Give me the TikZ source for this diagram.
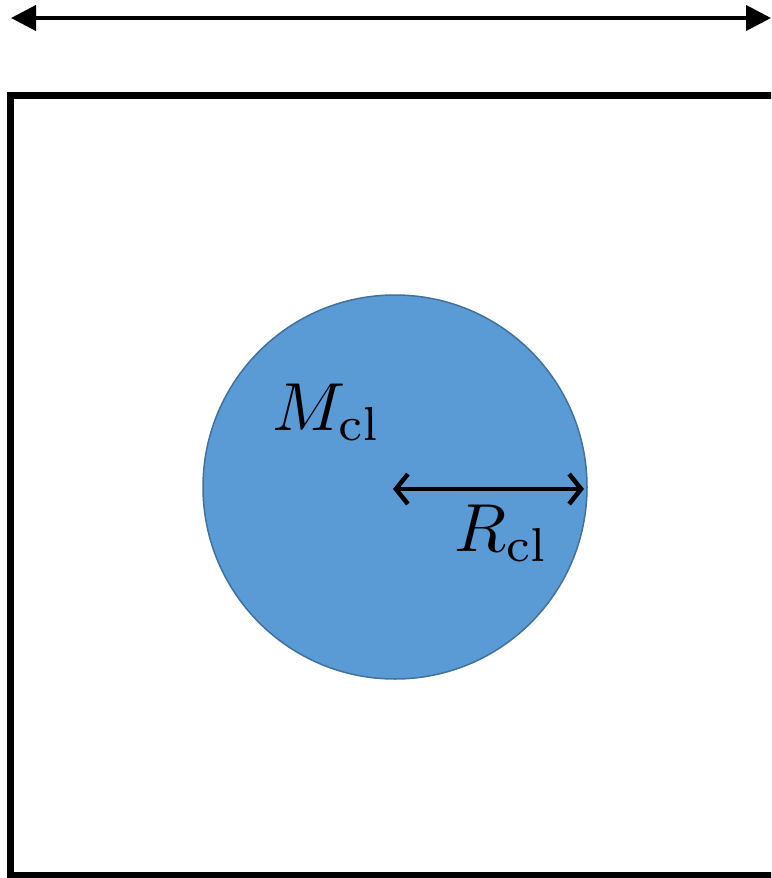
\documentclass[tikz,border=0pt]{standalone}
\usepackage{graphicx}
\usepackage{tikz}
\usetikzlibrary{arrows.meta}
\usepackage{xcolor}
\definecolor{clusterblue}{HTML}{5B9BD5}
\definecolor{clusteredge}{HTML}{41719C}

\tikzset{
  bigarrow/.style={line width=4pt, {Triangle[length=25pt,width=25pt]}-{Triangle[length=25pt,width=25pt]}},
  radiusarrow/.style={line width=4.5pt, {Straight Barb[length=12pt,width=30pt]}-{Straight Barb[length=12pt,width=30pt]}},
  biglabel/.style={inner sep=0pt, anchor=base west}
}
\newcommand{\biglbl}[1]{\scalebox{6.8}{#1}}

\begin{document}
\begin{tikzpicture}[x=1pt, y=-1pt]
  \clip (0,0) rectangle (771,878);
  \useasboundingbox (0,0) rectangle (771,878);
  % top span arrow
  \coordinate (spanL) at (11,18);
  \coordinate (spanR) at (771,18);
  \draw[bigarrow] (spanL) -- (spanR);
  % box, right side cut off
  \draw[line width=6.5pt] (10.5,95.5) rectangle (800,875);
  % cluster
  \node[circle, fill=clusterblue, draw=clusteredge, line width=1.5pt,
        minimum size=384pt, inner sep=0pt] (cl) at (395,487) {};
  \coordinate (rad) at (584,489);
  \draw[radiusarrow] (393,489) -- (rad);
  \node[biglabel] (mass) at (272,430) {\biglbl{$M_{\mathrm{cl}}$}};
  \node[biglabel] (radius) at (454,551) {\biglbl{$R_{\mathrm{cl}}$}};
\end{tikzpicture}
\end{document}
